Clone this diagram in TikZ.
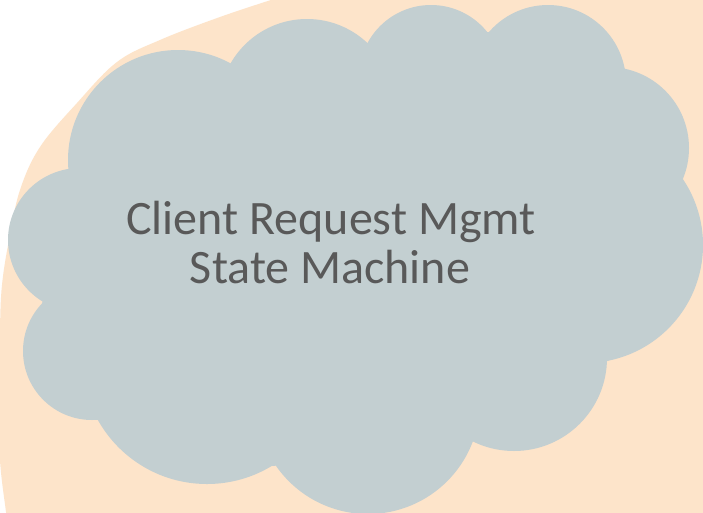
\documentclass[tikz,border=0pt]{standalone}
\usepackage{fontspec}
\setmainfont{Carlito}
\begin{document}
\begin{tikzpicture}[x=1pt,y=-1pt]
\definecolor{peach}{RGB}{253,228,202}
\definecolor{cloudgray}{RGB}{195,207,209}
\definecolor{labelgray}{RGB}{89,89,89}
\tikzset{
  cloudfill/.style={fill=cloudgray},
  cloudlabel/.style={anchor=base, inner sep=0pt, text=labelgray,
    font=\fontsize{48}{48}\selectfont}
}
\useasboundingbox (0,0) rectangle (703,512);
\clip (0,0) rectangle (703,512);
\fill[white] (0,0) rectangle (703,512);
% large peach backdrop
\fill[peach] plot[smooth, tension=0.6] coordinates {
  (295,-8) (280,-3) (220,17) (160,40) (117,62) (77,103) (40,147) (20,190)
  (9,240) (2,285) (0,330) (-0.5,400) (0,460) (6,512) (7,520)}
  -- (712,520) -- (712,-8) -- cycle;
% cloud: lobes plus inner polygon
\fill[cloudfill]
  (70,174) -- (233,63) -- (369,43) -- (488,32) -- (624,68) -- (683,185)
  -- (611,359) -- (468,438) -- (273,466) -- (102,421) -- (42,304) -- cycle;
\fill[cloudfill] (178,160) circle[radius=110];
\fill[cloudfill] (307,107) circle[radius=88];
\fill[cloudfill] (431,77) circle[radius=72];
\fill[cloudfill] (548,83) circle[radius=78];
\fill[cloudfill] (608,148) circle[radius=81];
\fill[cloudfill] (585,245) circle[radius=118];
\fill[cloudfill] (514,358) circle[radius=93];
\fill[cloudfill] (368,402) circle[radius=112];
\fill[cloudfill] (207,359) circle[radius=125];
\fill[cloudfill] (92,351) circle[radius=69];
\fill[cloudfill] (80,240) circle[radius=72];
% label
\node[cloudlabel] (line1) at (331,234) {Client Request Mgmt};
\node[cloudlabel] (line2) at (330,283) {State Machine};
\end{tikzpicture}
\end{document}
